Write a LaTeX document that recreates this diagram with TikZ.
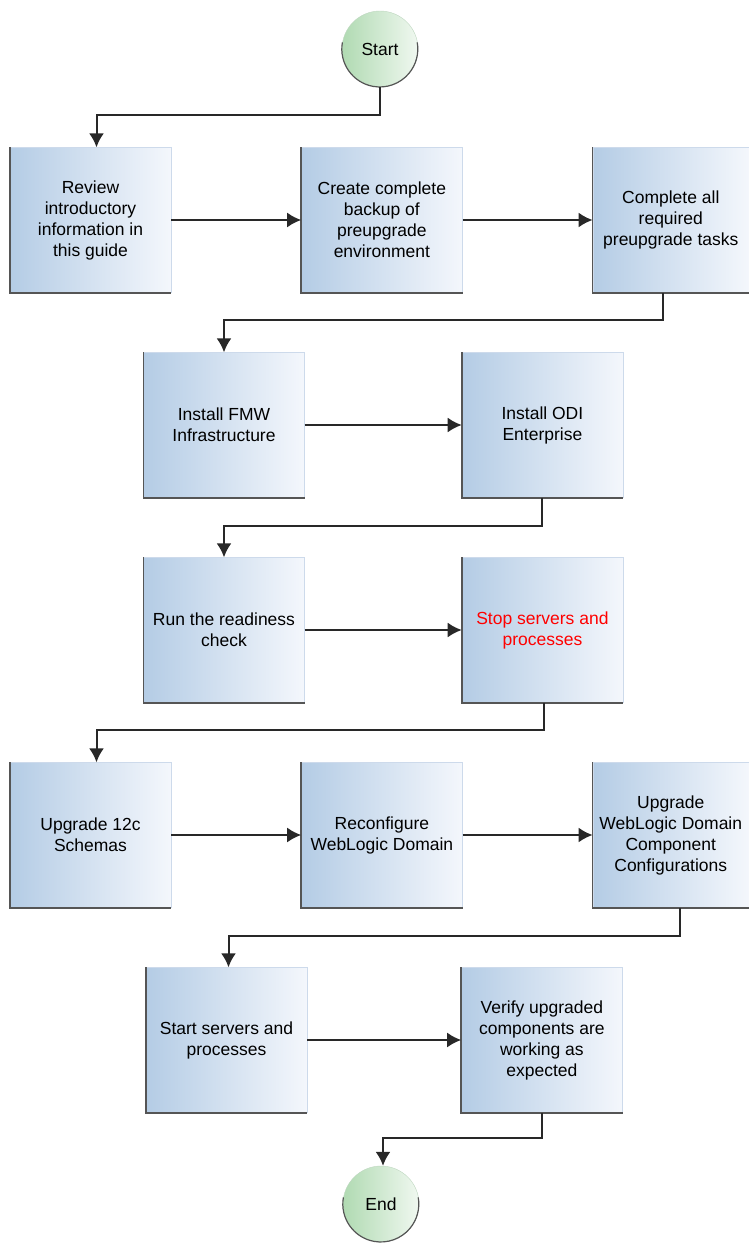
\documentclass[tikz,border=0pt]{standalone}
\usepackage{fontspec}
\setmainfont{Liberation Sans}
\usepackage{tikz}
\usetikzlibrary{shapes,arrows,arrows.meta}
\usetikzlibrary{positioning}

\definecolor{boxblue}{RGB}{180,204,229}
\definecolor{boxwhite}{RGB}{244,247,252}
\definecolor{boxrim}{RGB}{205,218,235}
\definecolor{termgreen}{RGB}{176,218,178}
\definecolor{termwhite}{RGB}{240,248,240}
\definecolor{termrim}{RGB}{190,215,192}
\definecolor{edgegray}{RGB}{85,85,85}
\definecolor{linegray}{RGB}{40,40,40}

\begin{document}
\begin{tikzpicture}[x=1pt,y=1pt,
	box/.style={draw=boxrim, left color=boxblue, right color=boxwhite, minimum width=161pt, minimum height=145pt, inner sep=0pt, align=center, font=\fontsize{17.5}{21}\selectfont},
	term/.style={circle, draw=termrim, left color=termgreen, right color=termwhite, minimum size=76pt, inner sep=0pt, font=\fontsize{17.5}{21}\selectfont},
	conn/.style={draw=linegray, line width=2pt, -{Latex[length=14pt,width=15pt]}},
	rim/.style={draw=edgegray, line width=1.6pt},
	node distance=130pt]
		
		\useasboundingbox (0,0) rectangle (749,-1243);
		
		\node[term] (start) at (380,-49) {Start};
		
		% row 1
		\node[box] (review) at (90.5,-220) {Review\\introductory\\information in\\this guide};
		\node[box,right=of review] (backup) {Create complete\\backup of\\preupgrade\\environment};
		\node[box,right=of backup,minimum width=156pt] (pretasks) {Complete all\\required\\preupgrade tasks};
		
		% row 2
		\node[box] (infra) at (224,-425) {Install FMW\\Infrastructure};
		\node[box,right=157pt of infra] (odi) {Install ODI\\Enterprise};
		
		% row 3
		\node[box] (check) at (224,-630) {Run the readiness\\check};
		\node[box,right=157pt of check,text=red] (stop) {Stop servers and\\processes};
		
		% row 4
		\node[box] (schemas) at (90.5,-835) {Upgrade 12c\\Schemas};
		\node[box,right=of schemas] (reconf) {Reconfigure\\WebLogic Domain};
		\node[box,right=of reconf,minimum width=156pt] (compcfg) {Upgrade\\WebLogic Domain\\Component\\Configurations};
		
		% row 5
		\node[box] (startsrv) at (226.5,-1040) {Start servers and\\processes};
		\node[box,right=154pt of startsrv] (verify) {Verify upgraded\\components are\\working as\\expected};
		
		\node[term] (finish) at (381,-1204) {End};
		
		% dark edges
		\foreach \n in {review,backup,pretasks,infra,odi,check,stop,schemas,reconf,compcfg,startsrv,verify}
			\draw[rim] (\n.north west) -- (\n.south west) -- (\n.south east);
		\foreach \n in {start,finish}
			\draw[rim,line width=1.2pt] (\n.170) arc[start angle=170, end angle=370, radius=38pt];
		
		% connectors
		\draw[conn] (start.south) -- ++(0,-28) -| ([xshift=6pt]review.north);
		\draw[conn] (review) -- (backup);
		\draw[conn] (backup) -- (pretasks);
		\draw[conn] ([xshift=-8pt]pretasks.south) -- ++(0,-27.5) -| (infra.north);
		\draw[conn] (infra) -- (odi);
		\draw[conn] (odi.south) -- ++(0,-28) -| (check.north);
		\draw[conn] (check) -- (stop);
		\draw[conn] ([xshift=2pt]stop.south) -- ++(0,-27.5) -| ([xshift=6pt]schemas.north);
		\draw[conn] (schemas) -- (reconf);
		\draw[conn] (reconf) -- (compcfg);
		\draw[conn] ([xshift=9pt]compcfg.south) -- ++(0,-28) -| ([xshift=2pt]startsrv.north);
		\draw[conn] (startsrv) -- (verify);
		\draw[conn] (verify.south) -- ++(0,-25.5) -| ([xshift=2pt]finish.north);
		
\end{tikzpicture}
\end{document}
